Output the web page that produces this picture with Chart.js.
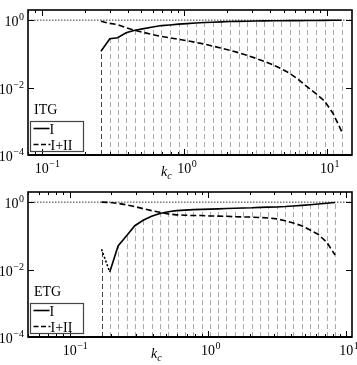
<!DOCTYPE html>
<html>
<head>
<meta charset="utf-8">
<script src="https://cdn.jsdelivr.net/npm/chart.js@4.4.0/dist/chart.umd.min.js"></script>
<style>
  html, body { margin: 0; padding: 0; background: #fff; }
  #wrap { position: relative; width: 357px; height: 365px; }
  canvas { position: absolute; left: 0; }
</style>
</head>
<body>
<div id="wrap">
  <canvas id="itg" width="357" height="182" style="top:0"></canvas>
  <canvas id="etg" width="357" height="183" style="top:182px"></canvas>
</div>
<script>
// ITG panel
const kcITG = [0.26, 0.30, 0.34, 0.39, 0.45, 0.52, 0.60, 0.69, 0.79, 0.91, 1.04, 1.20, 1.38, 1.58, 1.82,
  2.09, 2.40, 2.76, 3.17, 3.64, 4.18, 4.80, 5.52, 6.34, 7.29, 8.37, 9.62, 11.05, 12.7];
const fracI_ITG = [0.12, 0.28, 0.30, 0.42, 0.50, 0.56, 0.63, 0.69, 0.72, 0.76, 0.79, 0.82, 0.85, 0.87, 0.89,
  0.91, 0.92, 0.93, 0.94, 0.95, 0.955, 0.96, 0.965, 0.97, 0.975, 0.98, 0.985, 0.99, 0.99];
const fracI2_ITG = [0.93, 0.80, 0.74, 0.60, 0.50, 0.43, 0.37, 0.33, 0.30, 0.27, 0.245, 0.22, 0.195, 0.17, 0.148,
  0.127, 0.108, 0.090, 0.074, 0.060, 0.047, 0.036, 0.026, 0.017, 0.0105, 0.0066, 0.0040, 0.0017, 0.0005];

// ETG panel
const kcETG = [0.170, 0.195, 0.224, 0.258, 0.296, 0.340, 0.391, 0.449, 0.516, 0.593, 0.681, 0.783, 0.899, 1.03, 1.19,
  1.36, 1.57, 1.80, 2.07, 2.38, 2.73, 3.14, 3.61, 4.14, 4.76, 5.47, 6.29, 7.22, 8.30];
const fracI_ETG = [0.040, 0.0085, 0.050, 0.10, 0.20, 0.29, 0.38, 0.46, 0.52, 0.56, 0.58, 0.60, 0.61, 0.62, 0.63,
  0.645, 0.66, 0.67, 0.68, 0.70, 0.71, 0.72, 0.74, 0.77, 0.80, 0.84, 0.88, 0.93, 0.98];
const fracI2_ETG = [1.0, 0.98, 0.92, 0.83, 0.74, 0.64, 0.56, 0.50, 0.45, 0.42, 0.41, 0.40, 0.40, 0.39, 0.385,
  0.38, 0.37, 0.365, 0.36, 0.35, 0.34, 0.32, 0.28, 0.24, 0.20, 0.15, 0.11, 0.065, 0.027];

// axes
const xRangeITG = [0.08, 15];
const xRangeETG = [0.05, 11];
const yRange = [1e-4, 2];
const yTicks = [1, 1e-2, 1e-4];
const refLevel = 1;
const legendLabels = ['I', 'I+II'];

const SERIF = '"Liberation Serif", "DejaVu Serif", serif';

// draws stems, frame, ticks, labels, legend
const decor = {
  id: 'decor',
  beforeDatasetsDraw(chart, args, o) {
    const { ctx, chartArea: a, scales: { x, y } } = chart;
    ctx.save();
    ctx.lineWidth = 1;
    ctx.setLineDash([5, 3]);
    o.kc.forEach((k, i) => {
      const px = Math.round(x.getPixelForValue(k)) + 0.5;
      ctx.strokeStyle = i === 0 ? '#444' : '#aaa';
      ctx.beginPath();
      ctx.moveTo(px, a.bottom);
      ctx.lineTo(px, y.getPixelForValue(o.stem[i]));
      ctx.stroke();
    });
    ctx.restore();
  },
  afterDraw(chart, args, o) {
    const { ctx, chartArea: a, scales: { x, y } } = chart;
    ctx.save();
    ctx.strokeStyle = '#000';
    ctx.fillStyle = '#000';

    // ticks x (log, inward, top and bottom)
    ctx.lineWidth = 1;
    const d0 = Math.floor(Math.log10(x.min)), d1 = Math.ceil(Math.log10(x.max));
    for (let d = d0; d <= d1; d++) {
      for (let m = 1; m <= 9; m++) {
        const v = m * Math.pow(10, d);
        if (v < x.min || v > x.max) continue;
        const px = Math.round(x.getPixelForValue(v)) + 0.5;
        const len = m === 1 ? 6 : 3;
        ctx.beginPath();
        ctx.moveTo(px, a.bottom); ctx.lineTo(px, a.bottom - len);
        ctx.moveTo(px, a.top); ctx.lineTo(px, a.top + len);
        ctx.stroke();
      }
    }
    // ticks y
    yTicks.forEach(v => {
      const py = Math.round(y.getPixelForValue(v)) + 0.5;
      ctx.beginPath();
      ctx.moveTo(a.left, py); ctx.lineTo(a.left + 6, py);
      ctx.moveTo(a.right, py); ctx.lineTo(a.right - 6, py);
      ctx.stroke();
    });

    // frame
    ctx.lineWidth = 1.6;
    ctx.strokeRect(a.left, a.top, a.right - a.left, a.bottom - a.top);
    ctx.lineWidth = 2.2;
    ctx.beginPath();
    ctx.moveTo(a.left, a.bottom); ctx.lineTo(a.right, a.bottom);
    ctx.stroke();

    // x tick labels
    const big = '14px ' + SERIF, small = '10px ' + SERIF;
    for (let d = d0; d <= d1; d++) {
      const v = Math.pow(10, d);
      if (v < x.min * 0.999 || v > x.max * 1.001) continue;
      const px = x.getPixelForValue(v);
      ctx.font = big;
      const w = ctx.measureText('10').width;
      ctx.textAlign = 'center';
      ctx.fillText('10', px, a.bottom + 18);
      ctx.font = small;
      ctx.textAlign = 'left';
      ctx.fillText(d < 0 ? '\u2212' + (-d) : String(d), px + w / 2 + 0.5, a.bottom + 12);
    }
    // y tick labels
    yTicks.forEach(v => {
      const py = y.getPixelForValue(v);
      const e = Math.round(Math.log10(v));
      const sup = e < 0 ? '\u2212' + (-e) : String(e);
      ctx.font = small;
      ctx.textAlign = 'right';
      const sw = ctx.measureText(sup).width;
      ctx.fillText(sup, a.left - 4, py);
      ctx.font = big;
      ctx.fillText('10', a.left - 4 - sw - 0.5, py + 6);
    });

    // axis label k_c
    ctx.textAlign = 'left';
    ctx.font = 'italic 14px ' + SERIF;
    ctx.fillText('k', o.kcLabelX, a.bottom + 21);
    const kw = ctx.measureText('k').width;
    ctx.font = 'italic 10px ' + SERIF;
    ctx.fillText('c', o.kcLabelX + kw, a.bottom + 24);

    // panel name
    ctx.font = '14px ' + SERIF;
    ctx.fillText(o.name, a.left + 6, a.top + 104);

    // legend
    const lx = a.left + 2.5, ly = a.top + 111.5;
    ctx.lineWidth = 1.2;
    ctx.strokeStyle = '#444';
    ctx.strokeRect(lx, ly, 53, 30);
    ctx.strokeStyle = '#000';
    ctx.lineWidth = 1.6;
    ctx.beginPath();
    ctx.moveTo(lx + 3, ly + 7); ctx.lineTo(lx + 19, ly + 7);
    ctx.stroke();
    ctx.setLineDash([5, 2.5]);
    ctx.beginPath();
    ctx.moveTo(lx + 3, ly + 23); ctx.lineTo(lx + 20, ly + 23);
    ctx.stroke();
    ctx.setLineDash([]);
    ctx.font = '14px ' + SERIF;
    ctx.fillText(legendLabels[0], lx + 19, ly + 12);
    ctx.fillText(legendLabels[1], lx + 20, ly + 28);
    ctx.restore();
  }
};

function makePanel(id, kc, fracI, fracI2, xRange, opts) {
  const pts = (ys) => kc.map((k, i) => ({ x: k, y: ys[i] }));
  return new Chart(document.getElementById(id), {
    type: 'line',
    data: {
      datasets: [
        {
          data: [{ x: xRange[0], y: refLevel }, { x: xRange[1], y: refLevel }],
          borderColor: '#000', borderWidth: 0.8, borderDash: [1.5, 1.5], pointRadius: 0
        },
        {
          label: legendLabels[1], data: pts(fracI2),
          borderColor: '#000', borderWidth: 1.6, borderDash: [6, 3], pointRadius: 0
        },
        {
          label: legendLabels[0], data: pts(fracI),
          borderColor: '#000', borderWidth: 1.6, pointRadius: 0,
          segment: {
            borderDash: c => (opts.dottedFirst && c.p0DataIndex === 0) ? [2, 2] : undefined
          }
        }
      ]
    },
    options: {
      responsive: false,
      devicePixelRatio: 1,
      animation: false,
      layout: { padding: { left: 28, right: 5, top: 10, bottom: opts.padBottom } },
      scales: {
        x: { type: 'logarithmic', min: xRange[0], max: xRange[1], display: false },
        y: { type: 'logarithmic', min: yRange[0], max: yRange[1], display: false }
      },
      plugins: {
        legend: { display: false },
        tooltip: { enabled: false },
        decor: { kc: kc, stem: fracI, name: opts.name, kcLabelX: opts.kcLabelX }
      }
    },
    plugins: [decor]
  });
}

makePanel('itg', kcITG, fracI_ITG, fracI2_ITG, xRangeITG,
  { name: 'ITG', kcLabelX: 161, padBottom: 27, dottedFirst: false });
makePanel('etg', kcETG, fracI_ETG, fracI2_ETG, xRangeETG,
  { name: 'ETG', kcLabelX: 151, padBottom: 28, dottedFirst: true });
</script>
</body>
</html>
